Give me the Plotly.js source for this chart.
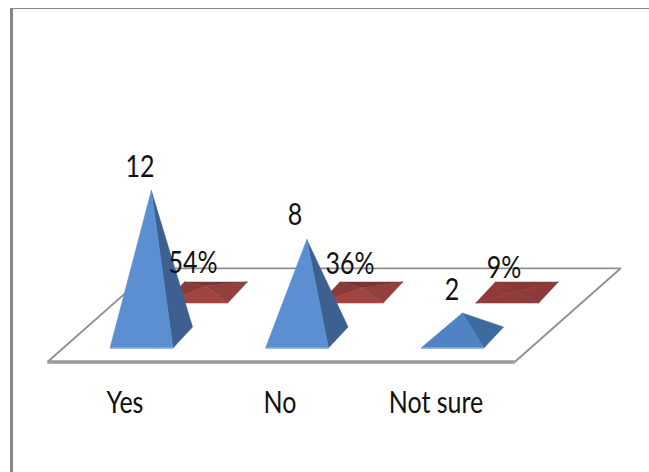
<!DOCTYPE html>
<html>
<head>
<meta charset="utf-8">
<script src="https://cdn.plot.ly/plotly-3.0.1.min.js"></script>
<style>html,body{margin:0;padding:0;background:#fff}#chart{width:649px;height:472px}</style>
</head>
<body>
<div id="chart"></div>
<script>
// Survey answers: respondents and their share of the total
const categories = ["Yes", "No", "Not sure"];
const counts = [12, 8, 2];
const percents = [54, 36, 9];

// Oblique projection, in axis units (category steps across, count units up)
const WIDTH = 0.405, DEPTH_X = 0.126, DEPTH_Y = 0.86;
const SERIES_SHIFT_X = 0.352, SERIES_SHIFT_Y = 3.67;
const FLOOR = {frontY: -2.0, backY: 5.65, left: -0.605, right: 2.4, skew: 0.682};

const blueFaces = [
  {front: "#5b8fd1", right: "#3c608f"},
  {front: "#5b8fd1", right: "#3c608f"},
  {front: "#4f83c3", right: "#3d6a9f"}
];
const redFaces = [
  {front: "#a04442", right: "#933f3d", left: "#8a3b39", back: "#7e3331"},
  {front: "#a04442", right: "#933f3d", left: "#8a3b39", back: "#7e3331"},
  {front: "#8f3b39", right: "#8d3a38", left: "#8d3a38", back: "#8b3836"}
];

function poly(pts, color) {
  return {
    type: "scatter", mode: "lines", x: pts.map(p => p[0]), y: pts.map(p => p[1]),
    fill: "toself", fillcolor: color, line: {width: 0.5, color: color},
    hoverinfo: "skip", showlegend: false
  };
}

// One pyramid on the floor plane: base centred at cx, rising to the value
function pyramid(cx, baseY, value, faces) {
  const fl = [cx - WIDTH / 2, baseY], fr = [cx + WIDTH / 2, baseY];
  const bl = [fl[0] + DEPTH_X, baseY + DEPTH_Y * 2], br = [fr[0] + DEPTH_X, baseY + DEPTH_Y * 2];
  const apex = [cx + DEPTH_X / 2, baseY + DEPTH_Y + value];
  const out = [];
  if (faces.back) out.push(poly([bl, br, apex, bl], faces.back));
  if (faces.left) out.push(poly([fl, bl, apex, fl], faces.left));
  out.push(poly([fr, br, apex, fr], faces.right));
  out.push(poly([fl, fr, apex, fl], faces.front));
  return out;
}

const traces = [];

// Floor outline
const floorX = [FLOOR.left, FLOOR.left + FLOOR.skew, FLOOR.right + FLOOR.skew, FLOOR.right];
const floorY = [FLOOR.frontY, FLOOR.backY, FLOOR.backY, FLOOR.frontY];
traces.push({type: "scatter", mode: "lines", x: floorX, y: floorY,
  line: {color: "#8f8f8f", width: 1.8}, hoverinfo: "skip", showlegend: false});
traces.push({type: "scatter", mode: "lines",
  x: [FLOOR.left, FLOOR.right], y: [FLOOR.frontY, FLOOR.frontY],
  line: {color: "#9a9a9a", width: 3.5}, hoverinfo: "skip", showlegend: false});

// Percentage series sits on the back row, count series on the front row
percents.forEach((p, i) => {
  traces.push(...pyramid(i + SERIES_SHIFT_X, SERIES_SHIFT_Y - DEPTH_Y, p / 100, redFaces[i]));
});
counts.forEach((c, i) => {
  traces.push(...pyramid(i, -DEPTH_Y, c, blueFaces[i]));
  traces.push({type: "scatter", mode: "lines",
    x: [i - WIDTH / 2, i + WIDTH / 2], y: [-DEPTH_Y, -DEPTH_Y],
    line: {color: "#86aee0", width: 1.5}, hoverinfo: "skip", showlegend: false});
});

const textFont = {family: "Lato, 'Liberation Sans', sans-serif", size: 25, color: "#111"};

// Data labels, placed relative to each category position
const countLabelDx = [-0.01, -0.013, -0.003];
const countLabelY = [13.8, 9.82, 3.7];
const pctLabelDx = [0.331, 0.341, 0.331];
const pctLabelY = [5.94, 5.82, 5.53];
traces.push({type: "scatter", mode: "text", x: countLabelDx.map((d, i) => i + d), y: countLabelY,
  text: counts.map(String), textposition: "middle center", textfont: textFont,
  hoverinfo: "skip", showlegend: false});
traces.push({type: "scatter", mode: "text", x: pctLabelDx.map((d, i) => i + d), y: pctLabelY,
  text: percents.map(p => p + "%"), textposition: "middle center", textfont: textFont,
  hoverinfo: "skip", showlegend: false});

// Category labels under the floor
traces.push({type: "scatter", mode: "text",
  x: [-0.106, -0.109, -0.106].map((d, i) => i + d), y: [-5.5, -5.5, -5.5],
  text: categories, textposition: "middle center", textfont: textFont,
  hoverinfo: "skip", showlegend: false});

const frameColor = "#868686";
const layout = {
  width: 649, height: 472,
  margin: {l: 0, r: 0, t: 0, b: 0},
  paper_bgcolor: "#fff", plot_bgcolor: "#fff",
  showlegend: false,
  xaxis: {range: [-0.91, 3.2637], visible: false, fixedrange: true},
  yaxis: {range: [-10.98, 27.55], visible: false, fixedrange: true},
  shapes: [
    {type: "rect", xref: "paper", yref: "paper", x0: 10 / 649, x1: 13 / 649, y0: 0, y1: 1 - 8 / 472,
     fillcolor: frameColor, line: {width: 0}},
    {type: "rect", xref: "paper", yref: "paper", x0: 10 / 649, x1: 1, y0: 1 - 9 / 472, y1: 1 - 8 / 472,
     fillcolor: frameColor, line: {width: 0}}
  ]
};

Plotly.newPlot("chart", traces, layout, {displayModeBar: false, staticPlot: true}).then(() => {
  // Labels are set tall and narrow: stretch each one vertically about its own centre
  document.querySelectorAll("#chart .textpoint text").forEach(el => {
    const b = el.getBBox();
    const cx = b.x + b.width / 2, cy = b.y + b.height / 2;
    const prior = el.getAttribute("transform") || "";
    el.setAttribute("transform",
      `${prior} translate(${cx} ${cy}) scale(1 1.2) translate(${-cx} ${-cy})`);
  });
});
</script>
</body>
</html>
